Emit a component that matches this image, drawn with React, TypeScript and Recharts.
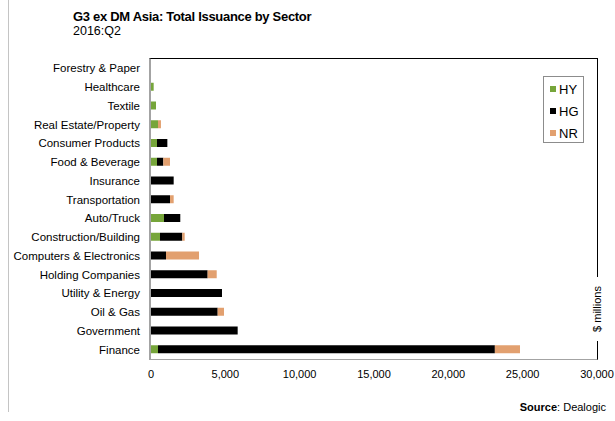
import React from "react";
import { BarChart, Bar, XAxis, YAxis } from "recharts";

const sectors = [
  "Forestry & Paper",
  "Healthcare",
  "Textile",
  "Real Estate/Property",
  "Consumer Products",
  "Food & Beverage",
  "Insurance",
  "Transportation",
  "Auto/Truck",
  "Construction/Building",
  "Computers & Electronics",
  "Holding Companies",
  "Utility & Energy",
  "Oil & Gas",
  "Government",
  "Finance",
];
const hyValues = [0, 180, 335, 470, 405, 405, 0, 0, 875, 605, 0, 0, 0, 0, 0, 470];
const hgValues = [0, 0, 0, 0, 695, 425, 1525, 1280, 1095, 1500, 1010, 3810, 4775, 4485, 5830, 22660];
const nrValues = [0, 0, 0, 200, 0, 450, 0, 245, 0, 160, 2220, 610, 0, 425, 0, 1690];
const xTicks = [0, 5000, 10000, 15000, 20000, 25000, 30000];

const series = [
  { key: "HY", color: "#76a53a" },
  { key: "HG", color: "#000000" },
  { key: "NR", color: "#e2a06f" },
];

const data = sectors.map((name, i) => ({
  name,
  HY: hyValues[i],
  HG: hgValues[i],
  NR: nrValues[i],
}));

const font = "'Liberation Sans', Arial, sans-serif";
const axisGray = "#a3a3a3";

// plot area (must match chart margins below)
const plot = { left: 151, top: 59, right: 597, bottom: 359 };

// plain svg text so long sector names never wrap
const SectorTick = (props: any) => {
  const { x, y, payload } = props;
  return (
    <text x={x - 3} y={y} dy="0.35em" textAnchor="end" fontSize={11.5} fontFamily={font} fill="#000">
      {payload.value}
    </text>
  );
};

const LegendBox = () => (
  <div
    style={{
      position: "absolute",
      left: 543,
      top: 76,
      border: "1px solid #8c8c8c",
      width: 41,
      height: 67,
      boxSizing: "border-box",
      padding: "1px 0 0 6px",
      background: "#fff",
      fontSize: 13,
    }}
  >
    {series.map((s) => (
      <div key={s.key} style={{ display: "flex", alignItems: "center", height: 22 }}>
        <span style={{ width: 6, height: 6, background: s.color, marginRight: 3 }} />
        <span>{s.key}</span>
      </div>
    ))}
  </div>
);

const App: React.FC = () => {
  return (
    <div style={{ position: "absolute", left: 0, top: 0, width: 615, height: 421, background: "#fff", fontFamily: font }}>
      {/* page edge line */}
      <div style={{ position: "absolute", left: 8, top: 0, width: 1, height: 412, background: "#c4c4c4" }} />
      <div style={{ position: "absolute", left: 73, top: 9, fontSize: 13, letterSpacing: -0.3, fontWeight: "bold", color: "#000" }}>
        G3 ex DM Asia: Total Issuance by Sector
      </div>
      <div style={{ position: "absolute", left: 73, top: 24, fontSize: 12.5, color: "#000" }}>2016:Q2</div>

      <BarChart
        width={615}
        height={421}
        data={data}
        layout="vertical"
        margin={{ top: plot.top, right: 615 - plot.right, bottom: 32, left: 0 }}
        style={{ position: "absolute", left: 0, top: 0 }}
      >
        <XAxis
          type="number"
          domain={[0, 30000]}
          ticks={xTicks}
          tickFormatter={(v: number) => v.toLocaleString("en-US")}
          tickLine={false}
          tickMargin={5}
          axisLine={false}
          tick={{ fontSize: 11, fill: "#000", fontFamily: font }}
          interval={0}
          height={30}
        />
        <YAxis
          type="category"
          dataKey="name"
          width={plot.left}
          tickLine={false}
          axisLine={false}
          tick={<SectorTick />}
          interval={0}
        />
        {series.map((s) => (
          <Bar key={s.key} dataKey={s.key} stackId="a" fill={s.color} barSize={8} isAnimationActive={false} />
        ))}
      </BarChart>

      {/* plot frame on top: gray left/bottom, black top/right */}
      <div
        style={{
          position: "absolute",
          left: plot.left - 2,
          top: plot.top - 1,
          width: plot.right - plot.left + 3,
          height: plot.bottom - plot.top + 2,
          boxSizing: "border-box",
          borderTop: "1px solid #000",
          borderRight: "1px solid #000",
          borderLeft: `2px solid ${axisGray}`,
          borderBottom: `1px solid ${axisGray}`,
          pointerEvents: "none",
        }}
      />

      <LegendBox />
      <div
        style={{
          position: "absolute",
          left: 597 - 32,
          top: 309 - 7,
          width: 64,
          height: 14,
          lineHeight: "14px",
          textAlign: "center",
          fontSize: 11,
          background: "#fff",
          transform: "rotate(-90deg)",
        }}
      >
        $ millions
      </div>
      <div style={{ position: "absolute", right: 9, top: 401, fontSize: 11 }}>
        <b>Source</b>: Dealogic
      </div>
    </div>
  );
};

export default App;
